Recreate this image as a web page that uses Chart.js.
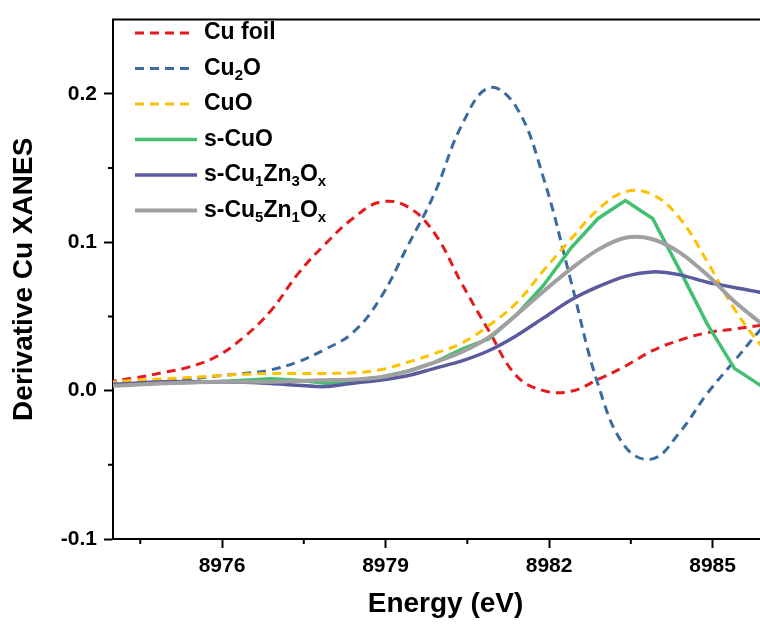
<!DOCTYPE html>
<html>
<head>
<meta charset="utf-8">
<script src="https://cdn.jsdelivr.net/npm/chart.js@4.4.0/dist/chart.umd.min.js"></script>
<style>
  html, body { margin: 0; padding: 0; overflow: hidden; background: #fff; }
  canvas { display: block; }
</style>
</head>
<body>
<canvas id="chart" width="780" height="626"></canvas>
<script>
// Energia (eV) comun para todas las series
const energy = [8973.9, 8974.4, 8974.9, 8975.4, 8975.9, 8976.4, 8976.9, 8977.4, 8977.9, 8978.4,
  8978.9, 8979.4, 8979.9, 8980.4, 8980.9, 8981.4, 8981.9, 8982.4, 8982.9, 8983.4,
  8983.9, 8984.4, 8984.9, 8985.4, 8985.9, 8986.4];

// Derivada XANES de cada muestra
const cuFoil = [0.006, 0.0085, 0.012, 0.016, 0.023, 0.036, 0.054, 0.079, 0.099, 0.116,
  0.127, 0.124, 0.106, 0.072, 0.040, 0.010, 0.000, -0.0005, 0.0075, 0.0165,
  0.027, 0.034, 0.039, 0.0415, 0.044, 0.046];
const cu2O = [0.0045, 0.0055, 0.0065, 0.0078, 0.0098, 0.0115, 0.014, 0.0195, 0.028, 0.039,
  0.062, 0.097, 0.133, 0.179, 0.204, 0.191, 0.143, 0.074, 0.004, -0.038,
  -0.046, -0.028, -0.002, 0.020, 0.042, 0.062];
const cuO = [0.0055, 0.007, 0.0078, 0.0088, 0.010, 0.011, 0.0115, 0.0116, 0.0116, 0.012,
  0.014, 0.019, 0.025, 0.032, 0.044, 0.059, 0.081, 0.102, 0.122, 0.134,
  0.132, 0.116, 0.087, 0.055, 0.030, 0.010];
const sCuO = [0.004, 0.0045, 0.005, 0.0055, 0.006, 0.007, 0.008, 0.007, 0.005, 0.006,
  0.009, 0.013, 0.019, 0.028, 0.035, 0.051, 0.071, 0.096, 0.116, 0.128,
  0.116, 0.081, 0.045, 0.015, 0.003, 0.000];
const sCu1Zn3Ox = [0.004, 0.005, 0.006, 0.0062, 0.006, 0.0056, 0.0048, 0.0036, 0.0027, 0.005,
  0.007, 0.010, 0.015, 0.020, 0.027, 0.037, 0.049, 0.061, 0.070, 0.077,
  0.080, 0.078, 0.073, 0.0695, 0.066, 0.062];
const sCu5Zn1Ox = [0.003, 0.004, 0.005, 0.0055, 0.006, 0.006, 0.006, 0.0065, 0.007, 0.0075,
  0.009, 0.013, 0.019, 0.026, 0.036, 0.051, 0.067, 0.082, 0.095, 0.103,
  0.102, 0.093, 0.078, 0.060, 0.045, 0.030];

const seriesLabels = ['Cu foil', 'Cu₂O', 'CuO', 's-CuO', 's-Cu₁Zn₃Oₓ', 's-Cu₅Zn₁Oₓ'];
const seriesValues = [cuFoil, cu2O, cuO, sCuO, sCu1Zn3Ox, sCu5Zn1Ox];

const xTicks = [8976, 8979, 8982, 8985];
const xMinorTicks = [8974.5, 8977.5, 8980.5, 8983.5];
const yTicks = [-0.1, 0.0, 0.1, 0.2];
const yMinorTicks = [-0.05, 0.05, 0.15];

const FONT = "'Liberation Sans', Arial, sans-serif";
Chart.defaults.font.family = FONT;
Chart.defaults.color = '#000';

// estilos de linea (punteadas = referencias, solidas = muestras)
const lineStyles = [
  { color: '#e41a1c', width: 3, dash: [9, 6], tension: 0.4 },
  { color: '#3a6b9f', width: 3, dash: [9, 6], tension: 0.4 },
  { color: '#ffc000', width: 3, dash: [9, 6], tension: 0.4 },
  { color: '#40c070', width: 3.5, dash: [], tension: 0 },
  { color: '#5b5a9c', width: 3.5, dash: [], tension: 0.3 },
  { color: '#a0a0a0', width: 4, dash: [], tension: 0.3 }
];

const SUBS = '₀₁₂₃₄₅₆₇₈₉';
function drawRich(ctx, text, x, y) {
  ctx.textBaseline = 'middle';
  ctx.textAlign = 'left';
  ctx.fillStyle = '#000';
  for (const ch of text) {
    const k = SUBS.indexOf(ch);
    const isSub = k >= 0 || ch === 'ₓ';
    const c = k >= 0 ? String(k) : (ch === 'ₓ' ? 'x' : ch);
    ctx.font = 'bold ' + (isSub ? 15 : 23) + 'px ' + FONT;
    ctx.fillText(c, x, isSub ? y + 7 : y);
    x += ctx.measureText(c).width;
  }
}

// marco superior, ticks menores y leyenda dentro del area
const framePlugin = {
  id: 'frame',
  afterDraw(chart) {
    const { ctx, chartArea: a, scales: { x, y } } = chart;
    ctx.save();
    ctx.strokeStyle = '#000';
    ctx.lineWidth = 2;
    ctx.beginPath();
    ctx.moveTo(a.left - 1, a.top);
    ctx.lineTo(a.right, a.top);
    xMinorTicks.forEach(v => {
      const px = x.getPixelForValue(v);
      ctx.moveTo(px, a.bottom);
      ctx.lineTo(px, a.bottom + 5);
    });
    yMinorTicks.forEach(v => {
      const py = y.getPixelForValue(v);
      ctx.moveTo(a.left, py);
      ctx.lineTo(a.left - 5, py);
    });
    ctx.stroke();

    chart.data.datasets.forEach((ds, i) => {
      const yy = 33 + i * 35.5;
      ctx.beginPath();
      ctx.setLineDash(ds.borderDash);
      ctx.strokeStyle = ds.borderColor;
      ctx.lineWidth = ds.borderWidth;
      ctx.moveTo(135, yy);
      ctx.lineTo(ds.borderDash.length ? 192 : 197, yy);
      ctx.stroke();
      ctx.setLineDash([]);
      drawRich(ctx, ds.label, 204, yy);
    });
    ctx.restore();
  }
};

new Chart(document.getElementById('chart'), {
  type: 'line',
  data: {
    datasets: seriesValues.map((vals, i) => ({
      label: seriesLabels[i],
      data: energy.map((e, j) => ({ x: e, y: vals[j] })),
      borderColor: lineStyles[i].color,
      borderWidth: lineStyles[i].width,
      borderDash: lineStyles[i].dash,
      tension: lineStyles[i].tension,
      pointRadius: 0,
      fill: false,
      order: seriesValues.length - i
    }))
  },
  options: {
    responsive: false,
    animation: false,
    layout: { padding: { left: 0, right: 2, top: 15, bottom: 0 } },
    plugins: { legend: { display: false }, tooltip: { enabled: false } },
    scales: {
      x: {
        type: 'linear',
        min: 8974,
        max: 8986.2,
        afterFit: s => { s.height = 87; },
        afterBuildTicks: s => { s.ticks = xTicks.map(v => ({ value: v })); },
        grid: { display: true, drawOnChartArea: false, drawTicks: true, tickLength: 9, tickWidth: 2, tickColor: '#000' },
        border: { display: true, color: '#000', width: 2 },
        ticks: { padding: 6, autoSkip: false, maxRotation: 0, font: { size: 21, weight: 'bold' }, callback: v => String(v) },
        title: { display: true, text: 'Energy (eV)', font: { size: 28, weight: 'bold' }, padding: { top: 0, bottom: 5 } }
      },
      y: {
        type: 'linear',
        min: -0.1,
        max: 0.25,
        afterFit: s => { s.width = 113; },
        afterBuildTicks: s => { s.ticks = yTicks.map(v => ({ value: v })); },
        grid: { display: true, drawOnChartArea: false, drawTicks: true, tickLength: 9, tickWidth: 2, tickColor: '#000' },
        border: { display: true, color: '#000', width: 2 },
        ticks: { padding: 7, font: { size: 21, weight: 'bold' }, callback: v => v.toFixed(1) },
        title: { display: true, text: 'Derivative Cu XANES', font: { size: 28, weight: 'bold' }, padding: { top: 7, bottom: 0 } }
      }
    }
  },
  plugins: [framePlugin]
});
</script>
</body>
</html>
